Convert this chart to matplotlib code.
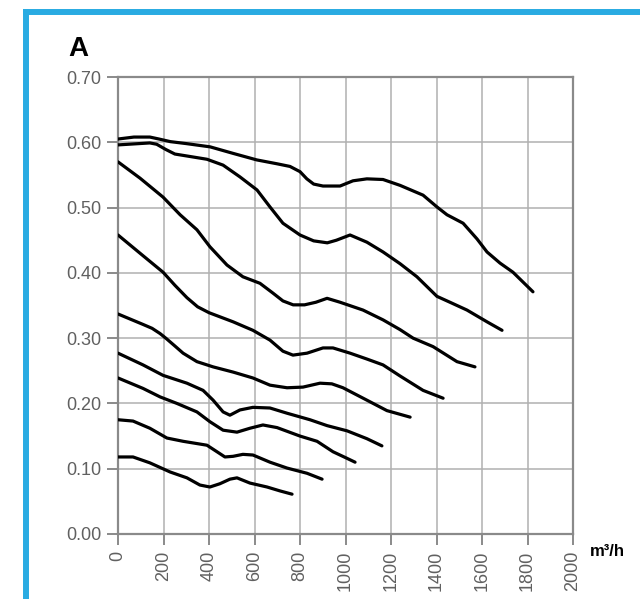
import matplotlib
matplotlib.use("Agg")
import matplotlib.pyplot as plt
from matplotlib.lines import Line2D
import numpy as np

plt.rcParams['font.family'] = ['Liberation Sans', 'DejaVu Sans']

# airflow (m3/h) vs pressure curves, one per fan speed step
c1_x = [0, 70, 140, 180, 230, 300, 405, 506, 610, 700, 756, 800, 830, 860, 901, 976, 1033, 1094, 1165, 1240, 1341, 1402, 1446, 1517, 1578, 1622, 1679, 1736, 1824]
c1_y = [0.605, 0.608, 0.608, 0.605, 0.601, 0.598, 0.593, 0.583, 0.573, 0.567, 0.563, 0.555, 0.544, 0.536, 0.533, 0.533, 0.541, 0.544, 0.543, 0.534, 0.519, 0.501, 0.489, 0.476, 0.452, 0.432, 0.415, 0.401, 0.371]

c2_x = [0, 140, 170, 210, 250, 303, 391, 462, 536, 611, 668, 725, 800, 860, 920, 960, 1020, 1094, 1165, 1240, 1314, 1402, 1459, 1534, 1622, 1688]
c2_y = [0.596, 0.599, 0.597, 0.589, 0.582, 0.579, 0.574, 0.565, 0.547, 0.527, 0.501, 0.476, 0.458, 0.449, 0.446, 0.450, 0.458, 0.447, 0.432, 0.414, 0.394, 0.364, 0.355, 0.343, 0.325, 0.312]

c3_x = [0, 97, 198, 273, 347, 404, 479, 549, 624, 681, 725, 770, 820, 870, 919, 976, 1077, 1165, 1240, 1297, 1385, 1490, 1569]
c3_y = [0.570, 0.545, 0.516, 0.489, 0.466, 0.440, 0.412, 0.394, 0.384, 0.369, 0.357, 0.351, 0.351, 0.355, 0.361, 0.355, 0.343, 0.328, 0.313, 0.300, 0.287, 0.264, 0.256]

c4_x = [0, 97, 198, 250, 303, 350, 400, 506, 593, 668, 725, 769, 831, 901, 945, 1020, 1094, 1165, 1240, 1341, 1429]
c4_y = [0.458, 0.430, 0.401, 0.381, 0.362, 0.348, 0.339, 0.325, 0.312, 0.297, 0.280, 0.274, 0.277, 0.285, 0.285, 0.277, 0.268, 0.259, 0.242, 0.220, 0.208]

c5_x = [0, 110, 150, 185, 210, 250, 286, 347, 418, 506, 593, 668, 743, 813, 888, 940, 989, 1094, 1182, 1284]
c5_y = [0.337, 0.321, 0.315, 0.307, 0.300, 0.288, 0.277, 0.264, 0.256, 0.248, 0.239, 0.228, 0.224, 0.225, 0.231, 0.230, 0.224, 0.205, 0.189, 0.179]

c6_x = [0, 110, 198, 303, 374, 418, 462, 492, 536, 593, 668, 743, 844, 919, 1007, 1094, 1160]
c6_y = [0.277, 0.259, 0.243, 0.231, 0.220, 0.205, 0.187, 0.182, 0.190, 0.194, 0.193, 0.185, 0.175, 0.166, 0.158, 0.146, 0.135]

c7_x = [0, 110, 185, 259, 347, 404, 462, 523, 580, 637, 699, 800, 875, 945, 1000, 1042]
c7_y = [0.239, 0.223, 0.210, 0.200, 0.187, 0.172, 0.159, 0.156, 0.162, 0.167, 0.163, 0.150, 0.142, 0.126, 0.117, 0.110]

c8_x = [0, 66, 140, 215, 286, 391, 435, 470, 506, 549, 593, 668, 743, 831, 897]
c8_y = [0.175, 0.173, 0.162, 0.147, 0.142, 0.136, 0.126, 0.118, 0.119, 0.122, 0.121, 0.110, 0.101, 0.093, 0.084]

c9_x = [0, 66, 140, 229, 303, 360, 404, 448, 492, 523, 580, 655, 712, 765]
c9_y = [0.118, 0.118, 0.109, 0.095, 0.086, 0.075, 0.072, 0.077, 0.084, 0.086, 0.078, 0.072, 0.066, 0.061]

curves = [(c1_x, c1_y), (c2_x, c2_y), (c3_x, c3_y), (c4_x, c4_y), (c5_x, c5_y),
          (c6_x, c6_y), (c7_x, c7_y), (c8_x, c8_y), (c9_x, c9_y)]

x_ticks = list(range(0, 2001, 200))
y_ticks = [0.0, 0.1, 0.2, 0.3, 0.4, 0.5, 0.6, 0.7]

W, H = 640, 599
fig = plt.figure(figsize=(W / 100, H / 100), dpi=100)
ax = fig.add_axes([118 / W, 1 - 534 / H, 455 / W, 457 / H])

for xs, ys in curves:
    ax.plot(xs, ys, color='black', lw=2.3, solid_capstyle='round', solid_joinstyle='round', zorder=3)

ax.set_xlim(0, 2000)
ax.set_ylim(0, 0.70)
ax.set_xticks(x_ticks)
ax.set_yticks(y_ticks)
ax.set_xticklabels([str(v) for v in x_ticks], rotation=90)
ax.set_yticklabels(['%.2f' % v for v in y_ticks])
ax.grid(True, color='#b0b0b0', lw=1.1)
ax.set_axisbelow(True)
for sp in ax.spines.values():
    sp.set_color('#8a8a8a')
    sp.set_linewidth(1.6)
ax.tick_params(direction='out', length=8, width=1.2, color='#777777',
               labelcolor='#606060', labelsize=13, pad=4)

fig.text(590 / W, 1 - 552 / H, 'm³/h', fontsize=12, fontweight='bold', va='center', ha='left')
fig.text(68 / W, 1 - 56 / H, 'A', fontsize=20, fontweight='bold', va='baseline', ha='left')

# blue frame along the top and left edge
bx = 25.5 / W
by = 1 - 12 / H
blue = '#29abe2'
fig.add_artist(Line2D([bx, bx], [0, by], transform=fig.transFigure, color=blue, lw=4.3, solid_capstyle='projecting'))
fig.add_artist(Line2D([bx, 1], [by, by], transform=fig.transFigure, color=blue, lw=4.3, solid_capstyle='projecting'))

fig.savefig('out.png', dpi=100)
